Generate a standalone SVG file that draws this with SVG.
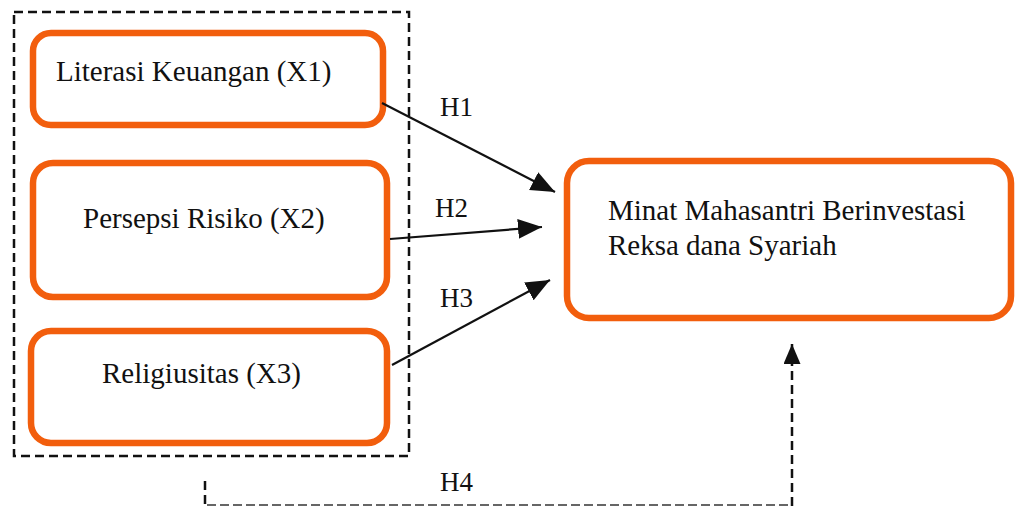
<svg xmlns="http://www.w3.org/2000/svg" width="1017" height="508" viewBox="0 0 1017 508">
<style>
.box{fill:#fff;stroke:#F25E0D;stroke-width:6.5}
.t{font-size:29px;fill:#111}
.h{font-size:27px;fill:#111}
.ln{fill:none;stroke:#111;stroke-width:2.2}
.dash{fill:none;stroke:#111;stroke-width:2.5;stroke-dasharray:9 5}
.dash2{fill:none;stroke:#666;stroke-width:2;stroke-dasharray:9 4}
</style>
<defs>
<marker id="arr" markerUnits="userSpaceOnUse" markerWidth="26" markerHeight="22" refX="24" refY="10" orient="auto">
<path d="M0,0 L24,10 L0,20 Z" fill="#111"/>
</marker>
<marker id="arr2" markerUnits="userSpaceOnUse" markerWidth="22" markerHeight="20" refX="20" refY="8.5" orient="auto">
<path d="M0,0 L20,8.5 L0,17 Z" fill="#111"/>
</marker>
</defs>
<g font-family="'Liberation Serif', 'DejaVu Serif', 'Times New Roman', serif">
<rect id="group" x="14" y="12" width="395" height="444" class="dash"/>
<g id="x1">
<rect x="33" y="33" width="350" height="92" rx="18" class="box"/>
<text x="56" y="81" class="t">Literasi Keuangan (X1)</text>
</g>
<g id="x2">
<rect x="33" y="163" width="354" height="134" rx="20" class="box"/>
<text x="83" y="228" class="t">Persepsi Risiko (X2)</text>
</g>
<g id="x3">
<rect x="31" y="331" width="356" height="112" rx="20" class="box"/>
<text x="102" y="383" class="t">Religiusitas (X3)</text>
</g>
<g id="y">
<rect x="567" y="161" width="444" height="157" rx="22" class="box"/>
<text x="608" y="220" class="t">Minat Mahasantri Berinvestasi</text>
<text x="608" y="255" class="t">Reksa dana Syariah</text>
</g>
<g id="connectors">
<line x1="382" y1="103" x2="555" y2="192" class="ln" marker-end="url(#arr)"/>
<line x1="390" y1="239" x2="542" y2="227" class="ln" marker-end="url(#arr)"/>
<line x1="392" y1="365" x2="550" y2="280" class="ln" marker-end="url(#arr)"/>
<path d="M205,481 V506" class="dash"/>
<path d="M207,505 H792" class="dash2"/>
<path d="M792,506 V344" class="dash" marker-end="url(#arr2)"/>
</g>
<g id="labels">
<text x="440" y="116" class="h">H1</text>
<text x="435" y="217" class="h">H2</text>
<text x="440" y="307" class="h">H3</text>
<text x="440" y="491" class="h">H4</text>
</g>
</g>
</svg>
